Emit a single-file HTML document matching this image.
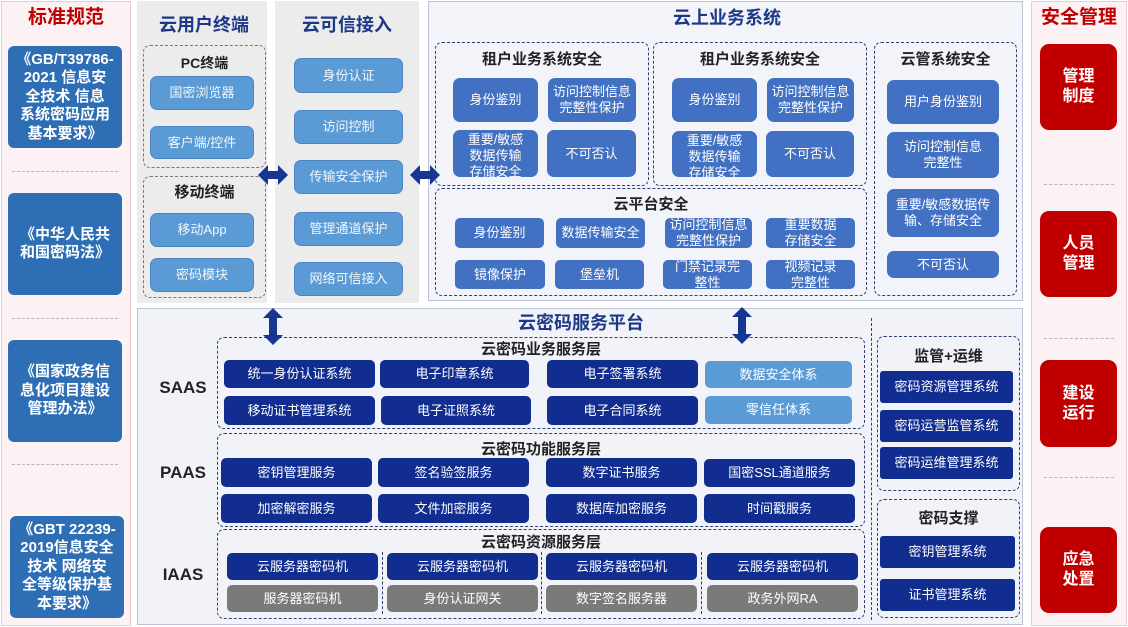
<!DOCTYPE html>
<html><head><meta charset="utf-8">
<style>
*{margin:0;padding:0;box-sizing:border-box}
body{width:1128px;height:627px;position:relative;background:#fff;overflow:hidden;font-family:"Liberation Sans","Noto Sans CJK SC",sans-serif}
.a{position:absolute}
.bx{position:absolute;display:flex;align-items:center;justify-content:center;text-align:center;color:#fff;overflow:hidden;font-size:13px;line-height:16px}
.std{background:#2e6eb5;border-radius:6px;font-size:15px;font-weight:bold;line-height:18.5px;color:#fff}
.red{background:#c00000;border-radius:9px;font-size:16px;font-weight:bold;line-height:20px}
.lb{background:#5b9bd5;border:1px solid #4f84c2;border-radius:7px;color:#f2f6fb}
.bz{background:#4270c2;border-radius:7px}
.nv{background:#112d8f;border-radius:5px}
.lt{background:#5b9bd5;border-radius:5px}
.gy{background:#7a7a7a;border-radius:5px}
.ds{position:absolute;border:1.5px dashed #2f3f72;border-radius:7px}
.dg{position:absolute;border:1.5px dashed #777;border-radius:7px}
.t{position:absolute;text-align:center;font-weight:bold;white-space:nowrap}
.hl{position:absolute;border-top:1px dashed #bdb3b3;height:0}
.nt{color:#1d3886;font-size:18px;line-height:22px}
.st{color:#222;font-size:15px;line-height:18px}
</style></head><body>

<!-- Left panel -->
<div class="a" style="left:1px;top:1px;width:130px;height:625px;background:#fcf2f3;border:1px solid #efc9c9"></div>
<div class="t" style="left:1px;width:130px;top:7px;font-size:19px;line-height:22px;color:#c00000">标准规范</div>
<div class="bx std" style="left:8px;top:46px;width:114px;height:102px">《GB/T39786-<br>2021 信息安<br>全技术 信息<br>系统密码应用<br>基本要求》</div>
<div class="hl" style="left:12px;top:171px;width:106px"></div>
<div class="bx std" style="left:8px;top:193px;width:114px;height:102px">《中华人民共<br>和国密码法》</div>
<div class="hl" style="left:12px;top:318px;width:106px"></div>
<div class="bx std" style="left:8px;top:340px;width:114px;height:102px">《国家政务信<br>息化项目建设<br>管理办法》</div>
<div class="hl" style="left:12px;top:464px;width:106px"></div>
<div class="bx std" style="left:10px;top:516px;width:114px;height:102px">《GBT 22239-<br>2019信息安全<br>技术 网络安<br>全等级保护基<br>本要求》</div>

<!-- Right panel -->
<div class="a" style="left:1031px;top:1px;width:96px;height:625px;background:#fcf2f3;border:1px solid #efc9c9"></div>
<div class="t" style="left:1031px;width:96px;top:7px;font-size:19px;line-height:22px;color:#c00000">安全管理</div>
<div class="bx red" style="left:1040px;top:44px;width:77px;height:86px">管理<br>制度</div>
<div class="hl" style="left:1044px;top:184px;width:70px"></div>
<div class="bx red" style="left:1040px;top:211px;width:77px;height:86px">人员<br>管理</div>
<div class="hl" style="left:1044px;top:338px;width:70px"></div>
<div class="bx red" style="left:1040px;top:360px;width:77px;height:87px">建设<br>运行</div>
<div class="hl" style="left:1044px;top:477px;width:70px"></div>
<div class="bx red" style="left:1040px;top:527px;width:77px;height:86px">应急<br>处置</div>

<!-- Cloud user terminal -->
<div class="a" style="left:137px;top:1px;width:130px;height:302px;background:#ececec"></div>
<div class="t nt" style="left:137px;width:134px;top:14px">云用户终端</div>
<div class="dg" style="left:143px;top:45px;width:123px;height:123px"></div>
<div class="t st" style="left:143px;width:123px;top:54px;font-size:14px">PC终端</div>
<div class="bx lb" style="left:150px;top:76px;width:104px;height:34px">国密浏览器</div>
<div class="bx lb" style="left:150px;top:126px;width:104px;height:33px">客户端/控件</div>
<div class="dg" style="left:143px;top:176px;width:123px;height:122px"></div>
<div class="t st" style="left:143px;width:123px;top:184px">移动终端</div>
<div class="bx lb" style="left:150px;top:213px;width:104px;height:34px">移动App</div>
<div class="bx lb" style="left:150px;top:258px;width:104px;height:34px">密码模块</div>

<!-- Cloud trusted access -->
<div class="a" style="left:275px;top:1px;width:144px;height:302px;background:#ececec"></div>
<div class="t nt" style="left:275px;width:144px;top:14px">云可信接入</div>
<div class="bx lb" style="left:294px;top:58px;width:109px;height:35px">身份认证</div>
<div class="bx lb" style="left:294px;top:110px;width:109px;height:34px">访问控制</div>
<div class="bx lb" style="left:294px;top:160px;width:109px;height:34px">传输安全保护</div>
<div class="bx lb" style="left:294px;top:212px;width:109px;height:34px">管理通道保护</div>
<div class="bx lb" style="left:294px;top:262px;width:109px;height:34px">网络可信接入</div>

<!-- Cloud business system -->
<div class="a" style="left:428px;top:1px;width:595px;height:300px;background:#f2f4f9;border:1px solid #bcc3d6"></div>
<div class="t nt" style="left:627px;width:200px;top:7px">云上业务系统</div>

<div class="ds" style="left:435px;top:42px;width:214px;height:144px"></div>
<div class="t st" style="left:435px;width:214px;top:51px">租户业务系统安全</div>
<div class="bx bz" style="left:453px;top:78px;width:85px;height:44px">身份鉴别</div>
<div class="bx bz" style="left:548px;top:78px;width:88px;height:44px">访问控制信息<br>完整性保护</div>
<div class="bx bz" style="left:453px;top:130px;width:85px;height:47px;align-items:flex-start;padding-top:2px">重要/敏感<br>数据传输<br>存储安全</div>
<div class="bx bz" style="left:547px;top:130px;width:89px;height:47px">不可否认</div>

<div class="ds" style="left:653px;top:42px;width:214px;height:144px"></div>
<div class="t st" style="left:653px;width:214px;top:51px">租户业务系统安全</div>
<div class="bx bz" style="left:672px;top:78px;width:85px;height:44px">身份鉴别</div>
<div class="bx bz" style="left:767px;top:78px;width:87px;height:44px">访问控制信息<br>完整性保护</div>
<div class="bx bz" style="left:672px;top:131px;width:85px;height:46px;align-items:flex-start;padding-top:2px">重要/敏感<br>数据传输<br>存储安全</div>
<div class="bx bz" style="left:766px;top:131px;width:88px;height:46px">不可否认</div>

<div class="ds" style="left:874px;top:42px;width:143px;height:254px"></div>
<div class="t st" style="left:874px;width:143px;top:51px">云管系统安全</div>
<div class="bx bz" style="left:887px;top:80px;width:112px;height:44px">用户身份鉴别</div>
<div class="bx bz" style="left:887px;top:132px;width:112px;height:46px">访问控制信息<br>完整性</div>
<div class="bx bz" style="left:887px;top:189px;width:112px;height:48px">重要/敏感数据传<br>输、存储安全</div>
<div class="bx bz" style="left:887px;top:251px;width:112px;height:27px">不可否认</div>

<div class="ds" style="left:435px;top:188px;width:432px;height:108px"></div>
<div class="t st" style="left:435px;width:432px;top:196px">云平台安全</div>
<div class="bx bz" style="left:455px;top:218px;width:89px;height:30px;border-radius:5px">身份鉴别</div>
<div class="bx bz" style="left:556px;top:218px;width:89px;height:30px;border-radius:5px">数据传输安全</div>
<div class="bx bz" style="left:665px;top:218px;width:87px;height:30px;border-radius:5px">访问控制信息<br>完整性保护</div>
<div class="bx bz" style="left:766px;top:218px;width:89px;height:30px;border-radius:5px">重要数据<br>存储安全</div>
<div class="bx bz" style="left:455px;top:260px;width:90px;height:29px;border-radius:5px">镜像保护</div>
<div class="bx bz" style="left:555px;top:260px;width:89px;height:29px;border-radius:5px">堡垒机</div>
<div class="bx bz" style="left:663px;top:260px;width:89px;height:29px;border-radius:5px">门禁记录完<br>整性</div>
<div class="bx bz" style="left:766px;top:260px;width:89px;height:29px;border-radius:5px">视频记录<br>完整性</div>

<!-- Bottom platform -->
<div class="a" style="left:137px;top:308px;width:886px;height:317px;background:#f1f3f9;border:1px solid #bcc3d6"></div>
<div class="t nt" style="left:481px;width:200px;top:312px">云密码服务平台</div>

<div class="t" style="left:150px;width:66px;top:377px;font-size:17px;line-height:22px;color:#222">SAAS</div>
<div class="t" style="left:150px;width:66px;top:462px;font-size:17px;line-height:22px;color:#222">PAAS</div>
<div class="t" style="left:150px;width:66px;top:564px;font-size:17px;line-height:22px;color:#222">IAAS</div>

<div class="ds" style="left:217px;top:337px;width:648px;height:92px"></div>
<div class="t st" style="left:217px;width:648px;top:341px">云密码业务服务层</div>
<div class="bx nv" style="left:224px;top:360px;width:151px;height:28px">统一身份认证系统</div>
<div class="bx nv" style="left:380px;top:360px;width:149px;height:28px">电子印章系统</div>
<div class="bx nv" style="left:547px;top:360px;width:151px;height:28px">电子签署系统</div>
<div class="bx lt" style="left:705px;top:361px;width:147px;height:27px">数据安全体系</div>
<div class="bx nv" style="left:224px;top:396px;width:151px;height:29px">移动证书管理系统</div>
<div class="bx nv" style="left:381px;top:396px;width:150px;height:29px">电子证照系统</div>
<div class="bx nv" style="left:547px;top:396px;width:151px;height:29px">电子合同系统</div>
<div class="bx lt" style="left:705px;top:396px;width:147px;height:28px">零信任体系</div>

<div class="ds" style="left:217px;top:433px;width:648px;height:94px"></div>
<div class="t st" style="left:217px;width:648px;top:441px">云密码功能服务层</div>
<div class="bx nv" style="left:221px;top:458px;width:151px;height:29px">密钥管理服务</div>
<div class="bx nv" style="left:378px;top:458px;width:151px;height:29px">签名验签服务</div>
<div class="bx nv" style="left:546px;top:458px;width:151px;height:29px">数字证书服务</div>
<div class="bx nv" style="left:704px;top:459px;width:151px;height:28px">国密SSL通道服务</div>
<div class="bx nv" style="left:221px;top:494px;width:151px;height:29px">加密解密服务</div>
<div class="bx nv" style="left:378px;top:494px;width:151px;height:29px">文件加密服务</div>
<div class="bx nv" style="left:546px;top:494px;width:151px;height:29px">数据库加密服务</div>
<div class="bx nv" style="left:704px;top:494px;width:151px;height:29px">时间戳服务</div>

<div class="ds" style="left:217px;top:529px;width:648px;height:90px"></div>
<div class="t st" style="left:217px;width:648px;top:534px">云密码资源服务层</div>
<div class="bx nv" style="left:227px;top:553px;width:151px;height:27px">云服务器密码机</div>
<div class="bx nv" style="left:387px;top:553px;width:151px;height:27px">云服务器密码机</div>
<div class="bx nv" style="left:546px;top:553px;width:151px;height:27px">云服务器密码机</div>
<div class="bx nv" style="left:707px;top:553px;width:151px;height:27px">云服务器密码机</div>
<div class="bx gy" style="left:227px;top:585px;width:151px;height:27px">服务器密码机</div>
<div class="bx gy" style="left:387px;top:585px;width:151px;height:27px">身份认证网关</div>
<div class="bx gy" style="left:546px;top:585px;width:151px;height:27px">数字签名服务器</div>
<div class="bx gy" style="left:707px;top:585px;width:151px;height:27px">政务外网RA</div>
<div class="a" style="left:382px;top:552px;height:62px;border-left:1.5px dashed #2f3f72"></div>
<div class="a" style="left:541px;top:552px;height:62px;border-left:1.5px dashed #2f3f72"></div>
<div class="a" style="left:701px;top:552px;height:62px;border-left:1.5px dashed #2f3f72"></div>

<!-- vertical separator -->
<div class="a" style="left:871px;top:318px;height:302px;border-left:1.5px dashed #2f3f72"></div>

<div class="ds" style="left:877px;top:336px;width:143px;height:155px"></div>
<div class="t st" style="left:877px;width:143px;top:348px">监管+运维</div>
<div class="bx nv" style="left:880px;top:371px;width:133px;height:32px;border-radius:3px">密码资源管理系统</div>
<div class="bx nv" style="left:880px;top:410px;width:133px;height:32px;border-radius:3px">密码运营监管系统</div>
<div class="bx nv" style="left:880px;top:447px;width:133px;height:32px;border-radius:3px">密码运维管理系统</div>

<div class="ds" style="left:877px;top:499px;width:143px;height:119px"></div>
<div class="t st" style="left:877px;width:143px;top:510px">密码支撑</div>
<div class="bx nv" style="left:880px;top:536px;width:135px;height:32px;border-radius:3px">密钥管理系统</div>
<div class="bx nv" style="left:880px;top:579px;width:135px;height:32px;border-radius:3px">证书管理系统</div>

<!-- horizontal arrows (on top) -->
<svg class="a" style="left:258px;top:165px" width="30" height="20"><polygon points="0,10 10,0 10,6 20,6 20,0 30,10 20,20 20,14 10,14 10,20" fill="#173593"/></svg>
<svg class="a" style="left:410px;top:165px" width="30" height="20"><polygon points="0,10 10,0 10,6 20,6 20,0 30,10 20,20 20,14 10,14 10,20" fill="#173593"/></svg>

<!-- vertical arrows -->
<svg class="a" style="left:263px;top:308px" width="20" height="37"><polygon points="10,0 20,10 14,10 14,27 20,27 10,37 0,27 6,27 6,10 0,10" fill="#173593"/></svg>
<svg class="a" style="left:732px;top:307px" width="20" height="37"><polygon points="10,0 20,10 14,10 14,27 20,27 10,37 0,27 6,27 6,10 0,10" fill="#173593"/></svg>

</body></html>
